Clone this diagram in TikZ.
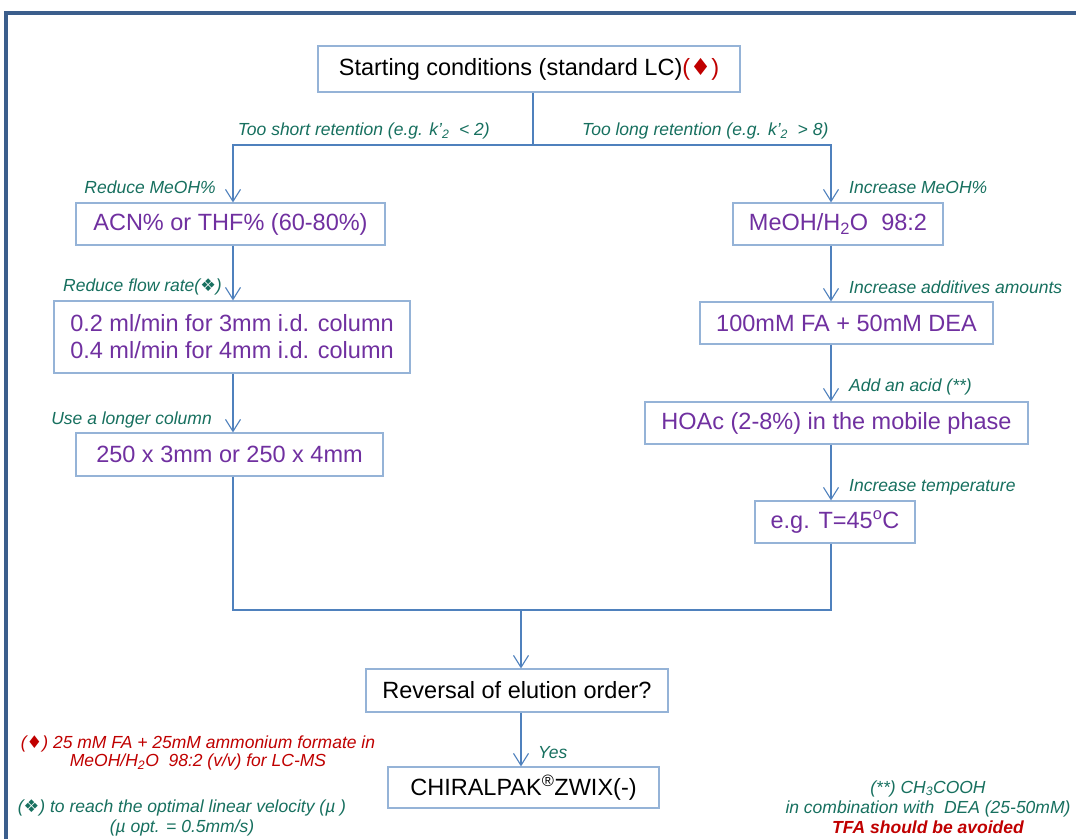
\documentclass[tikz,border=0pt]{standalone}
\usepackage{fontspec}
\setmainfont{Liberation Sans}
\newfontfamily\symfont{DejaVu Sans}
\usetikzlibrary{arrows.meta}
\definecolor{boxblue}{HTML}{95B3D7}
\definecolor{arrblue}{HTML}{4F81BD}
\definecolor{frameblue}{HTML}{3B5E8C}
\definecolor{txtpurple}{HTML}{7030A0}
\definecolor{txtteal}{HTML}{17705F}
\definecolor{txtred}{HTML}{C00000}
\begin{document}
\begin{tikzpicture}[x=1pt,y=-1pt,
  box/.style={draw=boxblue, line width=1.2pt, inner sep=0pt, align=center,
    font=\fontsize{23.5}{27}\selectfont},
  pbox/.style={box, text=txtpurple},
  arr/.style={draw=arrblue, line width=1.1pt,
    -{Straight Barb[length=12pt,width=15pt,line width=1.1pt]}},
  ln/.style={draw=arrblue, line width=1.1pt},
  lbl/.style={font=\fontsize{17.5}{20}\selectfont\itshape, text=txtteal, inner sep=0pt},
  foot/.style={font=\fontsize{17.5}{20}\selectfont\itshape, inner sep=0pt, align=center}]
\useasboundingbox (0,0) rectangle (1076,839);
\fill[white] (0,0) rectangle (1076,839);
\draw[frameblue, line width=3.5pt] (6,839) -- (6,13) -- (1076,13);

% boxes
\node[box, minimum width=422pt, minimum height=46pt] (start) at (529,69)
  {Starting conditions (standard LC){\color{txtred}({\symfont ♦})}};
\node[pbox, minimum width=309pt, minimum height=42pt] (acn) at (230.5,224)
  {ACN\% or THF\% (60-80\%)};
\node[pbox, minimum width=210pt, minimum height=42pt] (meoh) at (838,224)
  {MeOH/H\textsubscript{2}O\ \ 98:2};
\node[pbox, minimum width=356pt, minimum height=72pt] (flow) at (232,337)
  {0.2 ml/min for 3mm i.d. column\\0.4 ml/min for 4mm i.d. column};
\node[pbox, minimum width=307pt, minimum height=43pt] (col) at (229.5,454.5)
  {250 x 3mm or 250 x 4mm};
\node[pbox, minimum width=293pt, minimum height=42pt] (add) at (846.5,323)
  {100mM FA + 50mM DEA};
\node[pbox, minimum width=383pt, minimum height=42pt] (hoac) at (836.5,423)
  {HOAc (2-8\%) in the mobile phase};
\node[pbox, minimum width=160pt, minimum height=42pt] (temp) at (835,522)
  {e.g. T=45\textsuperscript{o}C};
\node[box, minimum width=302pt, minimum height=43pt] (rev) at (517,690.5)
  {Reversal of elution order?};
\node[box, minimum width=271pt, minimum height=41pt] (chiral) at (523.5,787.5)
  {CHIRALPAK\textsuperscript{®}ZWIX(-)};

% helper coordinates
\coordinate (L) at (233,0);
\coordinate (R) at (831,0);
\coordinate (S) at (533,0);
\coordinate (jT) at (533,145);
\coordinate (jB) at (521,610);

% connectors
\draw[ln] (start.south -| S) -- (jT);
\draw[arr] (jT) -| (acn.north -| L);
\draw[arr] (jT) -| (meoh.north -| R);
\draw[arr] (acn.south -| L) -- (flow.north -| L);
\draw[arr] (flow.south -| L) -- (col.north -| L);
\draw[arr] (meoh.south -| R) -- (add.north -| R);
\draw[arr] (add.south -| R) -- (hoac.north -| R);
\draw[arr] (hoac.south -| R) -- (temp.north -| R);
\draw[ln] (col.south -| L) |- (jB);
\draw[ln] (temp.south -| R) |- (jB);
\draw[arr] (jB) -- (rev.north -| jB);
\draw[arr] (rev.south -| jB) -- (chiral.north -| jB);

% labels
\node[lbl, anchor=east] (l1) at (490,131) {Too short retention (e.g. k’\textsubscript{2}\ \ < 2)};
\node[lbl, anchor=west] (l2) at (582,131) {Too long retention (e.g. k’\textsubscript{2}\ \ > 8)};
\node[lbl, anchor=east] (l3) at (216,187) {Reduce MeOH\%};
\node[lbl, anchor=west] (l4) at (849,187) {Increase MeOH\%};
\node[lbl, anchor=east] (l5) at (222,287) {Reduce flow rate({\symfont\upshape ❖})};
\node[lbl, anchor=east] (l6) at (212,420) {Use a longer column};
\node[lbl, anchor=west] (l7) at (849,287) {Increase additives amounts};
\node[lbl, anchor=west] (l8) at (849,387) {Add an acid (**)};
\node[lbl, anchor=west] (l9) at (849,487) {Increase temperature};
\node[lbl, anchor=west] (l10) at (538,753) {Yes};

% footnotes
\node[foot, text=txtred, font=\fontsize{17.5}{18}\selectfont\itshape] (f1) at (198,753)
  {({\symfont\upshape ♦}) 25 mM FA + 25mM ammonium formate in\\MeOH/H\textsubscript{2}O\ \ 98:2 (v/v) for LC-MS};
\node[foot, text=txtteal] (f2) at (182,818)
  {({\symfont\upshape ❖}) to reach the optimal linear velocity (µ )\\(µ opt. = 0.5mm/s)};
\node[foot, text=txtteal] (f3) at (928,807)
  {(**) CH\textsubscript{3}COOH\\in combination with\ \ DEA (25-50mM)\\{\color{txtred}\bfseries TFA\ should\ be\ avoided}};
\end{tikzpicture}
\end{document}
